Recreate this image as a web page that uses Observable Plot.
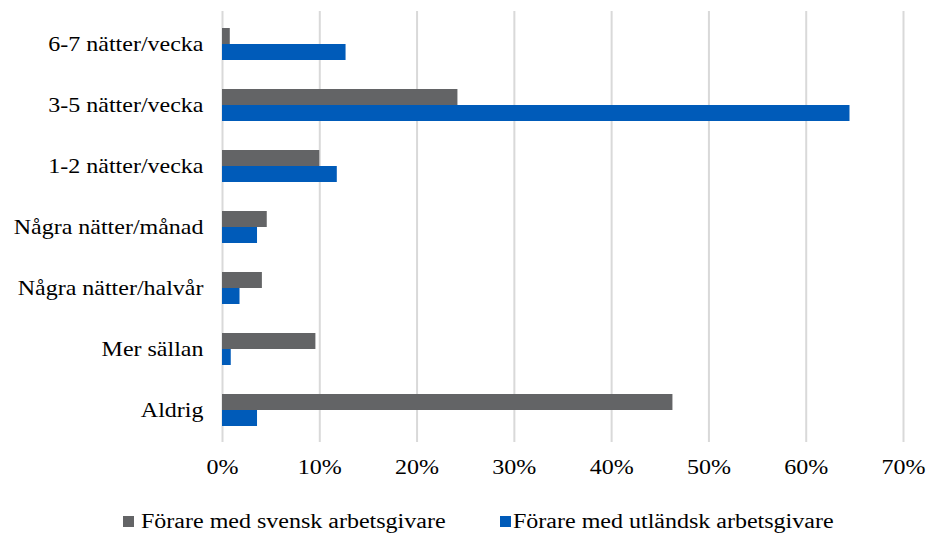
<!DOCTYPE html>
<html>
<head>
<meta charset="utf-8">
<script src="https://cdn.jsdelivr.net/npm/d3@7"></script>
<script src="https://cdn.jsdelivr.net/npm/@observablehq/plot@0.6"></script>
<style>
  html, body { margin: 0; padding: 0; background: #fff; }
  body { width: 927px; height: 533px; overflow: hidden; font-family: "Liberation Serif", "Times New Roman", serif; }
  #chart svg text { font-family: "Liberation Serif", "Times New Roman", serif; font-size: 20px; fill: #000; }
  #legend { position: relative; height: 43px; font-size: 20px; color: #000; }
  #legend .item { position: absolute; top: 19px; height: 24px; line-height: 24px; white-space: nowrap; }
  #legend .sw { position: absolute; left: 0; top: 7px; width: 11px; height: 11px; }
  #legend .txt { position: absolute; top: 0; display: inline-block; transform: scaleX(1.2); transform-origin: 0 50%; }
</style>
</head>
<body>
<div id="chart"></div>
<div id="legend"></div>
<script>
const categories = ["6-7 nätter/vecka", "3-5 nätter/vecka", "1-2 nätter/vecka", "Några nätter/månad", "Några nätter/halvår", "Mer sällan", "Aldrig"];
const seriesNames = ["Förare med svensk arbetsgivare", "Förare med utländsk arbetsgivare"];
const svensk = [0.008, 0.242, 0.100, 0.046, 0.041, 0.096, 0.463];
const utlandsk = [0.127, 0.645, 0.118, 0.036, 0.018, 0.009, 0.036];
const xTicks = [0, 0.1, 0.2, 0.3, 0.4, 0.5, 0.6, 0.7];
const colors = ["#636466", "#005BB9"];

const dataSv = categories.map((c, i) => ({category: c, value: svensk[i]}));
const dataUt = categories.map((c, i) => ({category: c, value: utlandsk[i]}));

const chart = Plot.plot({
  width: 927,
  height: 490,
  marginLeft: 222,
  marginRight: 24,
  marginTop: 11,
  marginBottom: 48,
  style: {fontFamily: "'Liberation Serif', 'Times New Roman', serif", fontSize: "20px", color: "#000", background: "#fff"},
  x: {domain: [0, 0.7], ticks: xTicks, tickFormat: d => Math.round(d * 100) + "%", tickSize: 0, tickPadding: 17, label: null},
  y: {domain: categories, paddingInner: 0.478, paddingOuter: 0.239, tickSize: 0, tickPadding: 19, label: null},
  marks: [
    Plot.ruleX(xTicks, {stroke: "#d9d9d9", strokeWidth: 2}),
    Plot.barX(dataSv, {x: "value", y: "category", fill: colors[0], insetBottom: 16, insetTop: 0}),
    Plot.barX(dataUt, {x: "value", y: "category", fill: colors[1], insetTop: 16, insetBottom: 0})
  ]
});
// stretch text horizontally around its anchor (the reference's text is widened)
chart.querySelectorAll("text").forEach(t => {
  const old = t.getAttribute("transform") || "";
  const ax = parseFloat(t.getAttribute("x") || "0") || 0;
  t.setAttribute("transform", `${old} translate(${ax},0) scale(1.2,1) translate(${-ax},0)`.trim());
});
document.getElementById("chart").appendChild(chart);

const legend = document.getElementById("legend");
const legendLeft = [123, 500];
seriesNames.forEach((name, i) => {
  const item = document.createElement("div");
  item.className = "item";
  item.style.left = legendLeft[i] + "px";
  const sw = document.createElement("span");
  sw.className = "sw";
  sw.style.background = colors[i];
  const txt = document.createElement("span");
  txt.className = "txt";
  txt.style.left = (i === 0 ? 18 : 13) + "px";
  txt.textContent = name;
  item.appendChild(sw);
  item.appendChild(txt);
  legend.appendChild(item);
});
</script>
</body>
</html>
